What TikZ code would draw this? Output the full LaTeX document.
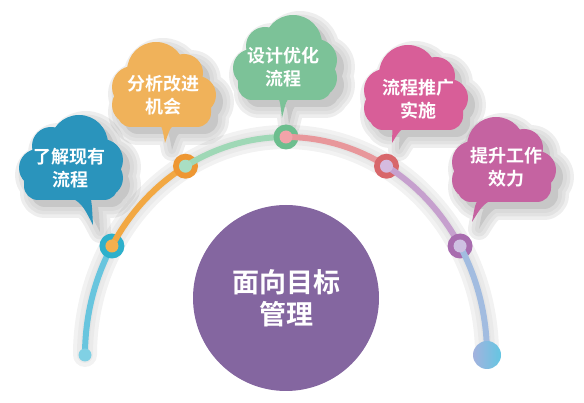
\documentclass[tikz,border=0pt]{standalone}
\usepackage{fontspec}
\newfontfamily\cjk{Noto Sans CJK SC Bold}
\usetikzlibrary{calc}
\definecolor{cTeal}{HTML}{2A94BC}
\definecolor{cOrange}{HTML}{F0B25A}
\definecolor{cGreen}{HTML}{7CC298}
\definecolor{cPink}{HTML}{D85E98}
\definecolor{cMagenta}{HTML}{C563A1}
\definecolor{cPurple}{HTML}{8466A0}
\definecolor{sA}{HTML}{68C5DE}
\definecolor{sB}{HTML}{F2A843}
\definecolor{sC}{HTML}{9FD8B6}
\definecolor{sD}{HTML}{E8979B}
\definecolor{sE}{HTML}{C6A0CE}
\definecolor{sF}{HTML}{A2BCE0}
\definecolor{rA}{HTML}{2DB0CB}
\definecolor{rB}{HTML}{EE9733}
\definecolor{rC}{HTML}{6CBE8E}
\definecolor{rD}{HTML}{D8676B}
\definecolor{rE}{HTML}{A86CAF}
\definecolor{iA}{HTML}{F4B04E}
\definecolor{iB}{HTML}{A9DEC3}
\definecolor{iC}{HTML}{F2A3A9}
\definecolor{iD}{HTML}{D5BBDF}
\definecolor{iE}{HTML}{CEC0E2}
\definecolor{dotA}{HTML}{80D0E4}
\definecolor{dotBl}{HTML}{A3B2DE}
\definecolor{dotBr}{HTML}{64C6E2}
% cloud outline: #1 mirror sign, #2 tail right base x, #3 tail left base x, #4 tip x, #5 tip y
\newcommand{\cloudpath}[5]{({-33*(#1)},10) circle (19) ({-20*(#1)},-12) circle (19)
 ({8*(#1)},-14) circle (29) ({31*(#1)},2) circle (21) ({33*(#1)},20) circle (19)
 (-33,28) circle (14) (33,28) circle (14) (33,-5) rectangle (-33,42) (47,10) rectangle (-47,28)
 (#2,36) .. controls ({(#2)+0.6*((#4)-(#2))},{36+0.3*((#5)-36)}) .. (#4,#5)
 .. controls ({(#3)+0.6*((#4)-(#3))},{36+0.3*((#5)-36)}) .. (#3,36) -- cycle}
% #1 cx, #2 cy, #3 sign, #4 rb, #5 lb, #6 tipx, #7 tipy, #8 colour
\newcommand{\mycloud}[8]{%
 \begin{scope}[shift={(#1+7,#2+7)}, transparency group, opacity=0.22]
  \foreach \w in {22,15,8} {\draw[black, line width=\w pt, opacity=0.3, line join=round] \cloudpath{#3}{#4}{#5}{#6}{#7};}
  \fill[black] \cloudpath{#3}{#4}{#5}{#6}{#7};
 \end{scope}
 \begin{scope}[shift={(#1,#2)}]
  \fill[#8] \cloudpath{#3}{#4}{#5}{#6}{#7};
 \end{scope}}
\tikzset{
 cloudtext/.style={align=center, text=white, inner sep=0pt, font=\cjk\fontsize{18}{23}\selectfont},
 seg/.style={line width=6pt, line cap=round},
 ring/.style={circle, inner sep=0pt, minimum size=25pt},
 core/.style={circle, inner sep=0pt, minimum size=13pt},
 goal/.style={circle, fill=cPurple, inner sep=0pt, minimum size=186pt, align=center, text=white,
   font=\cjk\fontsize{27}{32}\selectfont}
}
\begin{document}
\begin{tikzpicture}[x=1pt,y=-1pt]
\useasboundingbox (0,0) rectangle (584,403);
\coordinate (O) at (286,355);
\coordinate (E0) at ($(O)+(180:201 and 218)$);
\coordinate (N1) at ($(O)+(-150:201 and 218)$);
\coordinate (N2) at ($(O)+(-120:201 and 218)$);
\coordinate (N3) at ($(O)+(-90:201 and 218)$);
\coordinate (N4) at ($(O)+(-60:201 and 218)$);
\coordinate (N5) at ($(O)+(-30:201 and 218)$);
\coordinate (E1) at ($(O)+(0:201 and 218)$);
% arc shadow
\begin{scope}[shift={(11,8)}, transparency group, opacity=0.13]
 \foreach \w in {24,16,9} {\draw[black, line width=\w pt, opacity=0.4, line cap=round] (E0) arc[start angle=180, end angle=360, x radius=201, y radius=218];}
\end{scope}
% clouds
\mycloud{71}{158}{1}{19}{-6}{22}{67}{cTeal}
\mycloud{164}{85}{-1}{14}{-6}{1}{58}{cOrange}
\mycloud{285}{58}{1}{7}{-8}{-3}{60}{cGreen}
\mycloud{416}{88}{-1}{-4}{-23}{-24}{55}{cPink}
\mycloud{504}{160}{-1}{-4}{-24}{-32}{62}{cMagenta}
\node[cloudtext] (t1) at (70,168) {了解现有\\流程};
\node[cloudtext] (t2) at (163,95) {分析改进\\机会};
\node[cloudtext] (t3) at (283,67) {设计优化\\流程};
\node[cloudtext] (t4) at (418,99) {流程推广\\实施};
\node[cloudtext] (t5) at (506,167) {提升工作\\效力};
% centre
\node[goal] (g) at (286,298) {面向目标\\管理};
% arc segments and rings
\draw[seg, sA] (E0) arc[start angle=180, end angle=210, x radius=201, y radius=218];
\node[ring, fill=rA] (r1) at (N1) {};
\draw[seg, sB] (N1) arc[start angle=-150, end angle=-120, x radius=201, y radius=218];
\node[ring, fill=rB] (r2) at (N2) {};
\draw[seg, sC] (N2) arc[start angle=-120, end angle=-90, x radius=201, y radius=218];
\node[ring, fill=rC] (r3) at (N3) {};
\draw[seg, sD] (N3) arc[start angle=-90, end angle=-60, x radius=201, y radius=218];
\node[ring, fill=rD] (r4) at (N4) {};
\draw[seg, sE] (N4) arc[start angle=-60, end angle=-30, x radius=201, y radius=218];
\node[ring, fill=rE] (r5) at (N5) {};
\draw[seg, sF] (N5) arc[start angle=-30, end angle=0, x radius=201, y radius=218];
\node[core, fill=iA] (c1) at (N1) {};
\node[core, fill=iB] (c2) at (N2) {};
\node[core, fill=iC] (c3) at (N3) {};
\node[core, fill=iD] (c4) at (N4) {};
\node[core, fill=iE] (c5) at (N5) {};
\node[circle, inner sep=0pt, minimum size=13pt, fill=dotA] (d0) at (E0) {};
\node[circle, inner sep=0pt, minimum size=28pt, left color=dotBl, right color=dotBr] (d1) at (E1) {};
\end{tikzpicture}
\end{document}
